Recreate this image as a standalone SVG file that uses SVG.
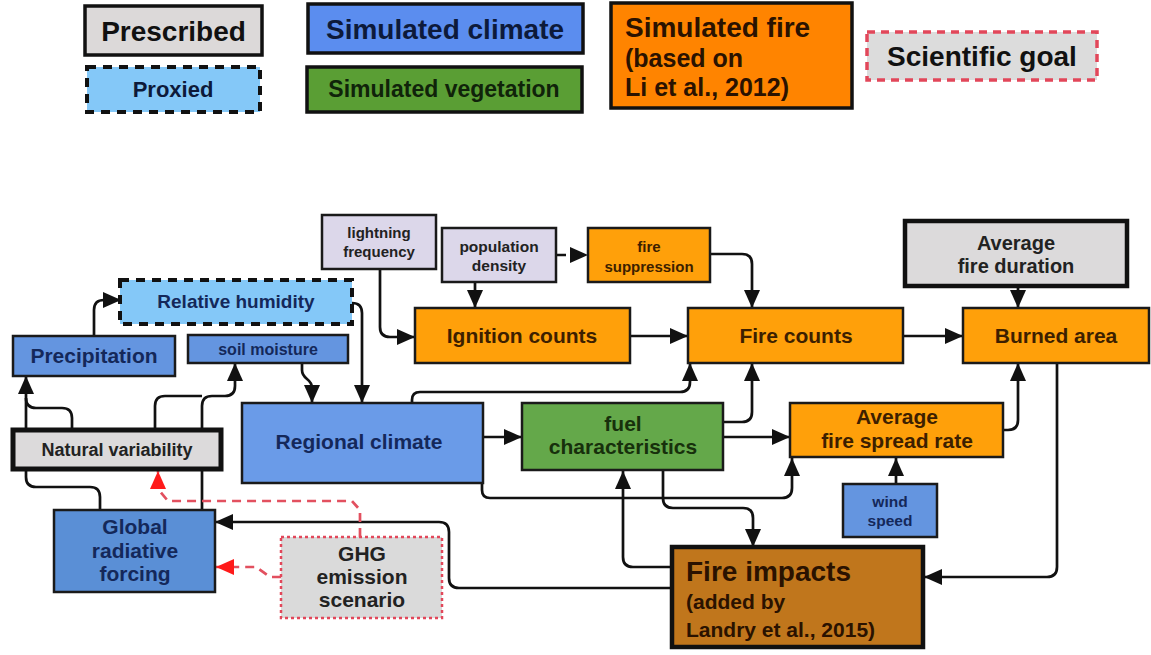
<svg xmlns="http://www.w3.org/2000/svg" width="1151" height="655" viewBox="0 0 1151 655">
<style>
.b{stroke:#1a1a1a;stroke-width:2.5}
.t{font-family:"Liberation Sans",Arial,sans-serif;font-weight:bold;text-anchor:middle}
.l{font-family:"Liberation Sans",Arial,sans-serif;font-weight:bold;text-anchor:start}
.c{fill:none;stroke:#111;stroke-width:2.7;stroke-linejoin:round}
.a{marker-end:url(#ah)}
.r{fill:none;stroke:#e2505f;stroke-width:2.7;stroke-dasharray:9 6;marker-end:url(#rah)}
.gray{fill:#dcdadb}
.blue{fill:#6a9be8}
.orange{fill:#ffa00a}
.lav{fill:#dcd7ea}
.tb{fill:#14285a}
.to{fill:#3d1f00}
.tg{fill:#222}
</style>
<defs>
<marker id="ah" viewBox="0 0 18 16" refX="18" refY="8" markerWidth="18" markerHeight="16" orient="auto" markerUnits="userSpaceOnUse"><path d="M0,0 L18,8 L0,16 Z" fill="#111"/></marker>
<marker id="rah" viewBox="0 0 18 16" refX="18" refY="8" markerWidth="18" markerHeight="16" orient="auto" markerUnits="userSpaceOnUse"><path d="M0,0 L18,8 L0,16 Z" fill="#ff1a1a"/></marker>
</defs>
<rect width="1151" height="655" fill="#fff"/>

<g id="legend">
<g id="leg-prescribed"><rect x="85" y="6" width="177" height="49" fill="#dcd9d9" stroke="#111" stroke-width="3.5"/><text class="t" x="173.5" y="41" font-size="28" fill="#111">Prescribed</text></g>
<g id="leg-proxied"><rect x="87" y="67" width="173" height="45" fill="#84c8f8" stroke="#111" stroke-width="4" stroke-dasharray="9 7"/><text class="t" x="173" y="97" font-size="22" fill="#0d1a3a">Proxied</text></g>
<g id="leg-climate"><rect x="308" y="4" width="275" height="49" fill="#5b8def" stroke="#111" stroke-width="3.5"/><text class="t" x="445" y="39" font-size="28" fill="#0d1a3a">Simulated climate</text></g>
<g id="leg-vegetation"><rect x="307" y="67" width="275" height="45" fill="#5a9e34" stroke="#111" stroke-width="3.5"/><text class="t" x="444" y="97" font-size="23" fill="#10230a">Simulated vegetation</text></g>
<g id="leg-fire"><rect x="611" y="3" width="241" height="105" fill="#ff8400" stroke="#111" stroke-width="3.5"/><text class="l" x="625" y="37" font-size="28" fill="#2a1200">Simulated fire</text><text class="l" x="625" y="67" font-size="25" fill="#2a1200">(based on</text><text class="l" x="625" y="96" font-size="25" fill="#2a1200">Li et al., 2012)</text></g>
<g id="leg-goal"><rect x="867" y="32" width="230" height="48" fill="#dcdcdc" stroke="#e2475a" stroke-width="3.5" stroke-dasharray="8 6"/><text class="t" x="982" y="66" font-size="28" fill="#111">Scientific goal</text></g>
</g>

<g id="connectors">
<path class="c a" d="M380,269 V327 Q380,337 390,337 H415"/>
<path class="c a" d="M475,282 V308"/>
<path class="c a" d="M556,255 H588" stroke-dasharray="10 6"/>
<path class="c a" d="M710,254 H742 Q752,254 752,264 V308"/>
<path class="c a" d="M630,336 H688"/>
<path class="c a" d="M903,336 H963"/>
<path class="c a" d="M1018,286 V308"/>
<path class="c a" d="M94,336 V310 Q94,300 104,300 H121"/>
<path class="c a" d="M352,303 Q362,303 362,313 V403"/>
<path class="c a" d="M302,363 V370 C302,380 312,378 312,388 V403"/>
<path class="c a" d="M412,403 V400 Q412,392 420,392 H680 Q690,392 690,382 V363"/>
<path class="c a" d="M723,422 H742 Q752,422 752,412 V363"/>
<path class="c a" d="M483,437 H522"/>
<path class="c a" d="M723,437 H790"/>
<path class="c a" d="M482,483 V490 Q482,498 490,498 H782 Q792,498 792,488 V458"/>
<path class="c a" d="M896,484 V458"/>
<path class="c a" d="M1003,430 H1008 Q1018,430 1018,420 V363"/>
<path class="c a" d="M1057,363 V567 Q1057,577 1047,577 H924"/>
<path class="c a" d="M663,470 V498 Q663,508 673,508 H743 Q753,508 753,518 V547"/>
<path class="c a" d="M672,567 H633 Q623,567 623,557 V471"/>
<path class="c a" d="M672,588 H459 Q449,588 449,578 V532 Q449,522 439,522 H215"/>
<path class="c a" d="M100,510 V497 Q100,487 90,487 H36 Q26,487 26,477 V376"/>
<path class="c" d="M72,429 V418 Q72,408 62,408 H36 Q26,408 26,398"/>
<path class="c a" d="M202,510 V406 Q202,396 212,396 H225 Q235,396 235,386 V363"/>
<path class="c" d="M155,429 V406 Q155,396 165,396 H202"/>
<path class="r" d="M360,537 V510 L352,501 H168 L158,489 V471"/>
<path class="r" d="M281,577 H270 L256,567 H216"/>
</g>

<g id="lightning"><rect class="b lav" x="322" y="215" width="114" height="54"/><text class="t tg" x="379" y="238" font-size="15">lightning</text><text class="t tg" x="379" y="257" font-size="15">frequency</text></g>
<g id="population"><rect class="b lav" x="442" y="228" width="114" height="54"/><text class="t tg" x="499" y="252" font-size="15.5">population</text><text class="t tg" x="499" y="271" font-size="15.5">density</text></g>
<g id="suppression"><rect class="b orange" x="588" y="228" width="122" height="54"/><text class="t to" x="649" y="252" font-size="15">fire</text><text class="t to" x="649" y="272" font-size="15">suppression</text></g>
<g id="duration"><rect class="gray" x="905" y="221" width="222" height="65" stroke="#111" stroke-width="4.5"/><text class="t tg" x="1016" y="250" font-size="20">Average</text><text class="t tg" x="1016" y="273" font-size="20">fire duration</text></g>
<g id="humidity"><rect x="120" y="280" width="232" height="44" fill="#84c8f8" stroke="#111" stroke-width="4" stroke-dasharray="9 7"/><text class="t tb" x="236" y="308" font-size="19">Relative humidity</text></g>
<g id="precipitation"><rect class="b" fill="#6495e0" x="13" y="336" width="162" height="40"/><text class="t tb" x="94" y="363" font-size="21">Precipitation</text></g>
<g id="soil"><rect class="b" fill="#6495e0" x="188" y="335" width="160" height="28"/><text class="t tb" x="268" y="355" font-size="16">soil moisture</text></g>
<g id="ignition"><rect class="b orange" x="415" y="308" width="215" height="55"/><text class="t to" x="522" y="343" font-size="21">Ignition counts</text></g>
<g id="firecounts"><rect class="b orange" x="688" y="308" width="215" height="55"/><text class="t to" x="796" y="343" font-size="21">Fire counts</text></g>
<g id="burned"><rect class="b orange" x="963" y="308" width="186" height="55"/><text class="t to" x="1056" y="343" font-size="21">Burned area</text></g>
<g id="natural"><rect class="gray" x="13" y="430" width="208" height="39" stroke="#111" stroke-width="5"/><text class="t tg" x="117" y="456" font-size="18">Natural variability</text></g>
<g id="regional"><rect class="b blue" x="242" y="403" width="241" height="80"/><text class="t tb" x="359" y="449" font-size="21">Regional climate</text></g>
<g id="fuel"><rect class="b" fill="#64a84a" x="522" y="403" width="201" height="67"/><text class="t" fill="#17300c" x="623" y="431" font-size="21">fuel</text><text class="t" fill="#17300c" x="623" y="454" font-size="21">characteristics</text></g>
<g id="spread"><rect class="b orange" x="790" y="403" width="213" height="54"/><text class="t to" x="897" y="424" font-size="21">Average</text><text class="t to" x="897" y="448" font-size="21">fire spread rate</text></g>
<g id="wind"><rect class="b" fill="#6495e0" x="843" y="484" width="94" height="53"/><text class="t tb" x="890" y="507" font-size="15.5">wind</text><text class="t tb" x="890" y="526" font-size="15.5">speed</text></g>
<g id="forcing"><rect class="b" fill="#5a8fd6" x="54" y="510" width="161" height="82"/><text class="t tb" x="135" y="534" font-size="21">Global</text><text class="t tb" x="135" y="558" font-size="21">radiative</text><text class="t tb" x="135" y="581" font-size="21">forcing</text></g>
<g id="ghg"><rect x="281" y="537" width="161" height="81" fill="#dadada" stroke="#e2475a" stroke-width="2.5" stroke-dasharray="3 3"/><text class="t tg" x="362" y="561" font-size="21">GHG</text><text class="t tg" x="362" y="584" font-size="21">emission</text><text class="t tg" x="362" y="607" font-size="21">scenario</text></g>
<g id="impacts"><rect x="672" y="547" width="251" height="100" fill="#c0761c" stroke="#111" stroke-width="4.5"/><text class="l" fill="#2a1200" x="686" y="581" font-size="28">Fire impacts</text><text class="l" fill="#2a1200" x="686" y="609" font-size="21">(added by</text><text class="l" fill="#2a1200" x="686" y="637" font-size="21">Landry et al., 2015)</text></g>
</svg>
